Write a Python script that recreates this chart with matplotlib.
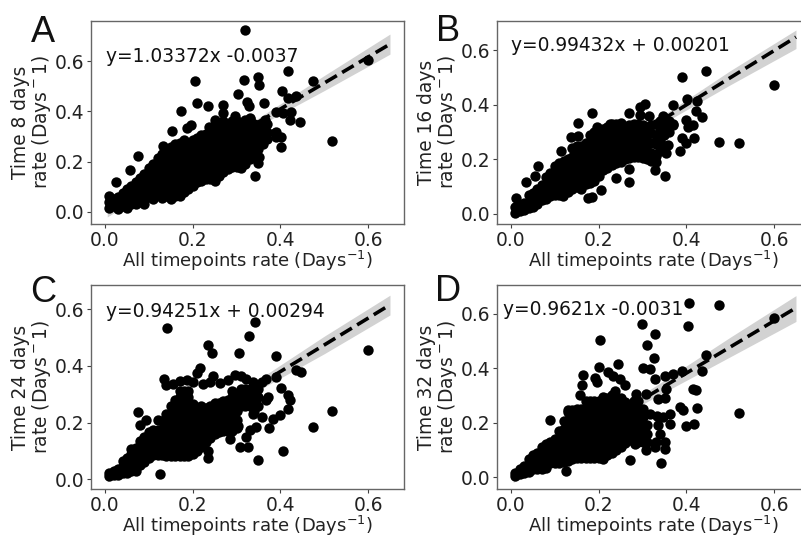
import numpy as np
import matplotlib
matplotlib.use('Agg')
import matplotlib.pyplot as plt

# points as (all timepoints rate, time rate)
a_points = [
    (.01, .015), (.01, .04), (.01, .065), (.03, .01), (.03, .035), (.03, .06),
    (.05, .015), (.05, .04), (.05, .07), (.05, .09), (.07, .03), (.07, .06), (.07, .09), (.07, .12),
    (.09, .03), (.09, .06), (.09, .09), (.09, .12), (.09, .15),
    (.11, .05), (.11, .08), (.11, .11), (.11, .14), (.11, .17), (.11, .19),
    (.13, .055), (.13, .085), (.13, .115), (.13, .145), (.13, .175), (.13, .205), (.13, .23),
    (.15, .05), (.15, .08), (.15, .11), (.15, .14), (.15, .17), (.15, .20), (.15, .23), (.15, .26),
    (.17, .065), (.17, .095), (.17, .125), (.17, .155), (.17, .185), (.17, .215), (.17, .245), (.17, .275),
    (.19, .09), (.19, .12), (.19, .15), (.19, .18), (.19, .21), (.19, .24), (.19, .27),
    (.21, .12), (.21, .15), (.21, .18), (.21, .21), (.21, .24), (.21, .27), (.21, .295),
    (.23, .13), (.23, .16), (.23, .19), (.23, .22), (.23, .25), (.23, .28), (.23, .31),
    (.25, .125), (.25, .155), (.25, .185), (.25, .215), (.25, .245), (.25, .275), (.25, .305), (.25, .33),
    (.27, .16), (.27, .19), (.27, .22), (.27, .25), (.27, .28), (.27, .31), (.27, .34), (.27, .36),
    (.29, .18), (.29, .21), (.29, .24), (.29, .27), (.29, .30), (.29, .33), (.29, .36),
    (.31, .175), (.31, .20), (.31, .23), (.31, .26), (.31, .29), (.31, .32), (.31, .35),
    (.33, .21), (.33, .24), (.33, .27), (.33, .30), (.33, .34), (.33, .37),
    (.35, .25), (.35, .28), (.35, .31), (.35, .345), (.37, .29), (.37, .32), (.37, .35), (.39, .30), (.39, .32),
    (.02, .025), (.02, .05), (.04, .025), (.04, .05), (.04, .075),
    (.06, .03), (.06, .055), (.06, .08), (.06, .105), (.08, .045), (.08, .075), (.08, .105), (.08, .135),
    (.10, .06), (.10, .09), (.10, .12), (.10, .15), (.10, .175),
    (.12, .07), (.12, .10), (.12, .13), (.12, .16), (.12, .19), (.12, .215),
    (.14, .065), (.14, .095), (.14, .125), (.14, .155), (.14, .185), (.14, .215), (.14, .245),
    (.16, .065), (.16, .095), (.16, .125), (.16, .155), (.16, .185), (.16, .215), (.16, .245), (.16, .27),
    (.18, .08), (.18, .11), (.18, .14), (.18, .17), (.18, .20), (.18, .23), (.18, .26), (.18, .285),
    (.20, .105), (.20, .135), (.20, .165), (.20, .195), (.20, .225), (.20, .255), (.20, .285),
    (.22, .125), (.22, .155), (.22, .185), (.22, .215), (.22, .245), (.22, .275), (.22, .305),
    (.24, .13), (.24, .16), (.24, .19), (.24, .22), (.24, .25), (.24, .28), (.24, .31), (.24, .335),
    (.26, .145), (.26, .175), (.26, .205), (.26, .235), (.26, .265), (.26, .295), (.26, .325), (.26, .35),
    (.28, .17), (.28, .20), (.28, .23), (.28, .26), (.28, .29), (.28, .32), (.28, .35),
    (.30, .18), (.30, .21), (.30, .24), (.30, .27), (.30, .30), (.30, .33), (.30, .36),
    (.32, .19), (.32, .22), (.32, .25), (.32, .28), (.32, .31), (.32, .34), (.32, .365),
    (.34, .23), (.34, .26), (.34, .29), (.34, .32), (.34, .35), (.36, .27), (.36, .30), (.36, .33),
    (.319, .725), (.205, .52), (.21, .434), (.235, .42), (.173, .402), (.317, .526), (.35, .536),
    (.352, .505), (.417, .562), (.475, .52), (.403, .483), (.417, .453), (.435, .462), (.303, .469),
    (.324, .436), (.328, .42), (.362, .434), (.6, .604), (.518, .284), (.445, .359), (.424, .396),
    (.421, .367), (.406, .393), (.389, .397), (.401, .258), (.341, .143), (.349, .194), (.351, .22),
    (.026, .12), (.058, .167), (.075, .224), (.132, .264), (.153, .323), (.186, .333), (.195, .347),
    (.268, .426), (.268, .393), (.25, .367), (.296, .38), (.33, .373), (.364, .367), (.387, .313),
    (.401, .297), (.237, .34),
]
b_points = [
    (.01, .005), (.01, .025), (.03, .015), (.03, .04), (.05, .025), (.05, .05), (.05, .075),
    (.07, .05), (.07, .075), (.07, .105), (.09, .065), (.09, .09), (.09, .12), (.09, .15),
    (.11, .07), (.11, .095), (.11, .125), (.11, .155), (.11, .185),
    (.13, .08), (.13, .11), (.13, .14), (.13, .17), (.13, .20),
    (.15, .10), (.15, .13), (.15, .16), (.15, .19), (.15, .22), (.15, .25),
    (.17, .11), (.17, .14), (.17, .17), (.17, .20), (.17, .23), (.17, .26),
    (.19, .12), (.19, .15), (.19, .18), (.19, .21), (.19, .24), (.19, .27), (.19, .30),
    (.21, .16), (.21, .19), (.21, .22), (.21, .25), (.21, .28), (.21, .31),
    (.23, .18), (.23, .21), (.23, .24), (.23, .27), (.23, .30), (.23, .33),
    (.25, .19), (.25, .22), (.25, .25), (.25, .28), (.25, .31), (.25, .33),
    (.27, .205), (.27, .235), (.27, .265), (.27, .295), (.27, .325),
    (.29, .21), (.29, .24), (.29, .27), (.29, .30), (.29, .33),
    (.31, .20), (.31, .23), (.31, .26), (.31, .29), (.31, .32),
    (.33, .19), (.33, .22), (.33, .255), (.33, .29), (.33, .33),
    (.35, .25), (.35, .29), (.35, .32), (.35, .35), (.37, .33),
    (.02, .01), (.02, .03), (.04, .02), (.04, .045), (.04, .07), (.06, .035), (.06, .06), (.06, .09),
    (.08, .055), (.08, .08), (.08, .11), (.08, .135), (.10, .07), (.10, .095), (.10, .125), (.10, .155), (.10, .175),
    (.12, .08), (.12, .11), (.12, .14), (.12, .17), (.12, .195),
    (.14, .09), (.14, .12), (.14, .15), (.14, .18), (.14, .21), (.14, .24),
    (.16, .10), (.16, .13), (.16, .16), (.16, .19), (.16, .22), (.16, .25),
    (.18, .115), (.18, .145), (.18, .175), (.18, .205), (.18, .235), (.18, .265), (.18, .29),
    (.20, .14), (.20, .17), (.20, .20), (.20, .23), (.20, .26), (.20, .29),
    (.22, .17), (.22, .20), (.22, .23), (.22, .26), (.22, .29), (.22, .32),
    (.24, .185), (.24, .215), (.24, .245), (.24, .275), (.24, .305), (.24, .33),
    (.26, .20), (.26, .23), (.26, .26), (.26, .29), (.26, .32),
    (.28, .21), (.28, .24), (.28, .27), (.28, .30), (.28, .33),
    (.30, .205), (.30, .235), (.30, .265), (.30, .295), (.30, .325),
    (.32, .195), (.32, .225), (.32, .26), (.32, .295), (.32, .325),
    (.34, .23), (.34, .27), (.34, .31), (.34, .34), (.36, .30), (.36, .34),
    (.389, .5), (.445, .523), (.6, .474), (.475, .265), (.519, .259), (.37, .40), (.402, .421),
    (.424, .412), (.423, .376), (.436, .354), (.40, .345), (.415, .327), (.404, .32), (.391, .28),
    (.40, .26), (.417, .277), (.386, .232), (.351, .138), (.328, .16), (.268, .163), (.269, .117),
    (.239, .13), (.206, .089), (.176, .059), (.185, .062), (.184, .37), (.153, .334), (.113, .229),
    (.062, .177), (.034, .118), (.012, .06), (.054, .138), (.305, .404), (.295, .391), (.294, .361),
    (.315, .36), (.268, .37), (.137, .283), (.153, .284), (.195, .32), (.225, .329), (.252, .333),
    (.119, .065), (.16, .093), (.354, .223), (.33, .211), (.358, .254), (.37, .327), (.347, .357),
]
c_points = [
    (.01, .01), (.01, .02), (.03, .015), (.03, .035), (.05, .02), (.05, .05), (.05, .075),
    (.07, .03), (.07, .06), (.07, .09), (.07, .11), (.09, .06), (.09, .09), (.09, .12), (.09, .15),
    (.11, .085), (.11, .115), (.11, .145), (.11, .175),
    (.13, .085), (.13, .115), (.13, .145), (.13, .175), (.13, .205),
    (.15, .08), (.15, .11), (.15, .14), (.15, .17), (.15, .20), (.15, .23), (.15, .26),
    (.17, .08), (.17, .11), (.17, .14), (.17, .17), (.17, .20), (.17, .23), (.17, .26), (.17, .29), (.17, .31),
    (.19, .08), (.19, .11), (.19, .14), (.19, .17), (.19, .20), (.19, .23), (.19, .26), (.19, .29), (.19, .31),
    (.21, .10), (.21, .13), (.21, .16), (.21, .19), (.21, .22), (.21, .25),
    (.23, .13), (.23, .16), (.23, .19), (.23, .22), (.23, .25),
    (.25, .16), (.25, .19), (.25, .22), (.25, .25), (.25, .27),
    (.27, .17), (.27, .20), (.27, .23), (.27, .26), (.27, .275),
    (.29, .17), (.29, .20), (.29, .23), (.29, .26), (.29, .29), (.29, .31),
    (.31, .26), (.31, .29), (.31, .32), (.33, .26), (.33, .29), (.33, .32), (.35, .26), (.35, .29), (.35, .32),
    (.02, .015), (.02, .03), (.04, .02), (.04, .045), (.04, .065), (.06, .03), (.06, .06), (.06, .09), (.06, .105),
    (.08, .05), (.08, .08), (.08, .11), (.08, .135), (.10, .075), (.10, .105), (.10, .135), (.10, .165),
    (.12, .085), (.12, .115), (.12, .145), (.12, .175), (.12, .21),
    (.14, .08), (.14, .11), (.14, .14), (.14, .17), (.14, .20), (.14, .23),
    (.16, .08), (.16, .11), (.16, .14), (.16, .17), (.16, .20), (.16, .23), (.16, .26), (.16, .28),
    (.18, .08), (.18, .11), (.18, .14), (.18, .17), (.18, .20), (.18, .23), (.18, .26), (.18, .29), (.18, .31),
    (.20, .09), (.20, .12), (.20, .15), (.20, .18), (.20, .21), (.20, .24), (.20, .265),
    (.22, .115), (.22, .145), (.22, .175), (.22, .205), (.22, .235), (.22, .26),
    (.24, .145), (.24, .175), (.24, .205), (.24, .235), (.24, .26),
    (.26, .165), (.26, .195), (.26, .225), (.26, .255), (.26, .27),
    (.28, .17), (.28, .20), (.28, .23), (.28, .26), (.28, .28),
    (.30, .18), (.30, .21), (.30, .24), (.30, .27), (.30, .30),
    (.32, .26), (.32, .29), (.32, .32), (.34, .24), (.34, .27), (.34, .30), (.34, .33),
    (.142, .535), (.341, .555), (.328, .505), (.235, .473), (.244, .445), (.306, .445), (.389, .435),
    (.6, .456), (.518, .241), (.475, .185), (.406, .099), (.348, .068), (.125, .018), (.235, .075),
    (.236, .101), (.309, .113), (.326, .115), (.322, .149), (.33, .172), (.345, .184), (.373, .182),
    (.383, .213), (.398, .225), (.417, .249), (.421, .278), (.417, .296), (.402, .323), (.435, .387),
    (.446, .379), (.389, .361), (.368, .355), (.216, .394), (.21, .375), (.135, .353), (.075, .237),
    (.079, .192), (.094, .21), (.284, .143), (.303, .186), (.357, .219), (.338, .231), (.368, .278),
    (.372, .29), (.14, .331), (.155, .337), (.17, .347), (.186, .351), (.2, .343), (.224, .337),
    (.246, .363), (.239, .343), (.262, .341), (.28, .349), (.296, .367), (.311, .363), (.322, .355),
    (.338, .343), (.357, .343),
]
d_points = [
    (.01, .005), (.01, .015), (.03, .015), (.03, .04), (.05, .03), (.05, .06), (.05, .08),
    (.07, .03), (.07, .06), (.07, .09), (.07, .11), (.09, .05), (.09, .08), (.09, .11), (.09, .13),
    (.11, .05), (.11, .08), (.11, .11), (.11, .14), (.11, .17),
    (.13, .06), (.13, .09), (.13, .12), (.13, .15), (.13, .18), (.13, .21), (.13, .24),
    (.15, .07), (.15, .10), (.15, .13), (.15, .16), (.15, .19), (.15, .22), (.15, .25),
    (.17, .07), (.17, .10), (.17, .13), (.17, .16), (.17, .19), (.17, .22), (.17, .25), (.17, .28),
    (.19, .07), (.19, .10), (.19, .13), (.19, .16), (.19, .19), (.19, .22), (.19, .25), (.19, .28),
    (.21, .065), (.21, .095), (.21, .125), (.21, .155), (.21, .185), (.21, .215), (.21, .245), (.21, .275), (.21, .295),
    (.23, .09), (.23, .12), (.23, .15), (.23, .18), (.23, .21), (.23, .24), (.23, .27), (.23, .30),
    (.25, .11), (.25, .14), (.25, .17), (.25, .20), (.25, .23), (.25, .26), (.25, .29),
    (.27, .14), (.27, .17), (.27, .20), (.27, .23), (.27, .26),
    (.29, .13), (.29, .16), (.29, .19), (.29, .22), (.29, .25), (.29, .28),
    (.31, .13), (.31, .16), (.31, .19), (.33, .13),
    (.02, .01), (.02, .03), (.04, .02), (.04, .045), (.04, .065), (.06, .03), (.06, .06), (.06, .09),
    (.08, .035), (.08, .065), (.08, .095), (.08, .12), (.10, .05), (.10, .08), (.10, .11), (.10, .14),
    (.12, .055), (.12, .085), (.12, .115), (.12, .145), (.12, .175), (.12, .205),
    (.14, .065), (.14, .095), (.14, .125), (.14, .155), (.14, .185), (.14, .215), (.14, .245),
    (.16, .07), (.16, .10), (.16, .13), (.16, .16), (.16, .19), (.16, .22), (.16, .25),
    (.18, .07), (.18, .10), (.18, .13), (.18, .16), (.18, .19), (.18, .22), (.18, .25), (.18, .28),
    (.20, .07), (.20, .10), (.20, .13), (.20, .16), (.20, .19), (.20, .22), (.20, .25), (.20, .28),
    (.22, .08), (.22, .11), (.22, .14), (.22, .17), (.22, .20), (.22, .23), (.22, .26), (.22, .29),
    (.24, .10), (.24, .13), (.24, .16), (.24, .19), (.24, .22), (.24, .25), (.24, .28),
    (.26, .125), (.26, .155), (.26, .185), (.26, .215), (.26, .245), (.26, .275),
    (.28, .13), (.28, .16), (.28, .19), (.28, .22), (.28, .25), (.28, .28),
    (.30, .13), (.30, .16), (.30, .19), (.30, .22), (.30, .25),
    (.407, .639), (.475, .633), (.403, .556), (.298, .562), (.329, .525), (.31, .485), (.204, .504),
    (.325, .438), (.445, .447), (.6, .584), (.2, .404), (.244, .414), (.301, .401), (.316, .398),
    (.328, .361), (.351, .373), (.37, .379), (.391, .388), (.436, .388), (.415, .322), (.423, .321),
    (.424, .255), (.385, .257), (.392, .245), (.398, .186), (.417, .196), (.519, .237), (.342, .053),
    (.272, .064), (.126, .022), (.165, .376), (.191, .364), (.196, .349), (.163, .337), (.221, .386),
    (.233, .373), (.248, .361), (.259, .337), (.237, .318), (.286, .304), (.307, .304), (.354, .324),
    (.335, .288), (.352, .291), (.316, .233), (.332, .226), (.362, .233), (.347, .22), (.362, .196),
    (.335, .19), (.339, .159), (.351, .129), (.351, .104), (.328, .11), (.309, .098), (.282, .122),
    (.09, .208), (.157, .30), (.13, .245),
]

fit_x = [.005, .17, .35, .5, .65]
a_fit = [.0015, .172, .358, .513, .668]
a_upper = [.02, .18, .374, .543, .708]
a_lower = [-.02, .164, .342, .483, .628]
b_fit = [.007, .171, .350, .499, .648]
b_upper = [.025, .178, .365, .525, .674]
b_lower = [-.01, .164, .335, .473, .606]
c_fit = [.0077, .163, .333, .474, .616]
c_upper = [.025, .171, .352, .505, .65]
c_lower = [-.01, .155, .314, .443, .58]
d_fit = [.0017, .161, .334, .478, .622]
d_upper = [.025, .17, .356, .514, .667]
d_lower = [-.02, .152, .312, .442, .572]

W, H = 801, 537
fig = plt.figure(figsize=(W / 100, H / 100), dpi=100)


# left, top, right, bottom in pixels of the image
def add_panel(box, ylim, points, fit, upper, lower, eq, eq_pos, ylab, letter, letter_pos):
    l, t, r, b = box
    ax = fig.add_axes([l / W, 1 - b / H, (r - l) / W, (b - t) / H])
    pts = np.array(points)
    ax.fill_between(fit_x, lower, upper, color='#d2d2d2', lw=0, zorder=1)
    ax.scatter(pts[:, 0], pts[:, 1], s=56, c='k', lw=0, zorder=2)
    ax.plot(fit_x, fit, 'k--', lw=2.6, dashes=(3.7, 1.7), zorder=3)
    ax.set_xlim(-.032, .682)
    ax.set_ylim(ylim)
    ax.set_xticks([0, .2, .4, .6])
    ax.set_yticks([0, .2, .4, .6])
    ax.tick_params(labelsize=13.4, length=3, width=.8, color='#404040', labelcolor='#222222', pad=2)
    for s in ax.spines.values():
        s.set_color('#666666')
        s.set_linewidth(1)
    ax.set_xlabel('All timepoints rate (Days$^{-1}$)', fontsize=13, color='#222222', labelpad=-1)
    ax.set_ylabel(ylab, fontsize=13.4, color='#222222', labelpad=1, linespacing=1.0)
    ax.text(eq_pos[0], eq_pos[1], eq, fontsize=13.4, color='#111111', zorder=4)
    fig.text(letter_pos[0] / W, 1 - letter_pos[1] / H, letter, fontsize=26, family='Liberation Sans', color='#111111')
    return ax


add_panel((91, 21, 404, 224), (-.048, .76), a_points, a_fit, a_upper, a_lower,
          'y=1.03372x -0.0037', (.002, .596), 'Time 8 days\nrate (Days$^-$1)', 'A', (31, 42))
add_panel((497, 21, 810, 224), (-.037, .707), b_points, b_fit, b_upper, b_lower,
          'y=0.99432x + 0.00201', (0, .598), 'Time 16 days\nrate (Days$^-$1)', 'B', (436, 41))
add_panel((91, 285, 404, 489), (-.035, .686), c_points, c_fit, c_upper, c_lower,
          'y=0.94251x + 0.00294', (.002, .573), 'Time 24 days\nrate (Days$^-$1)', 'C', (30, 302))
add_panel((497, 285, 810, 489), (-.044, .706), d_points, d_fit, d_upper, d_lower,
          'y=0.9621x -0.0031', (-.018, .596), 'Time 32 days\nrate (Days$^-$1)', 'D', (435, 301))

fig.savefig('out.png', dpi=100)
